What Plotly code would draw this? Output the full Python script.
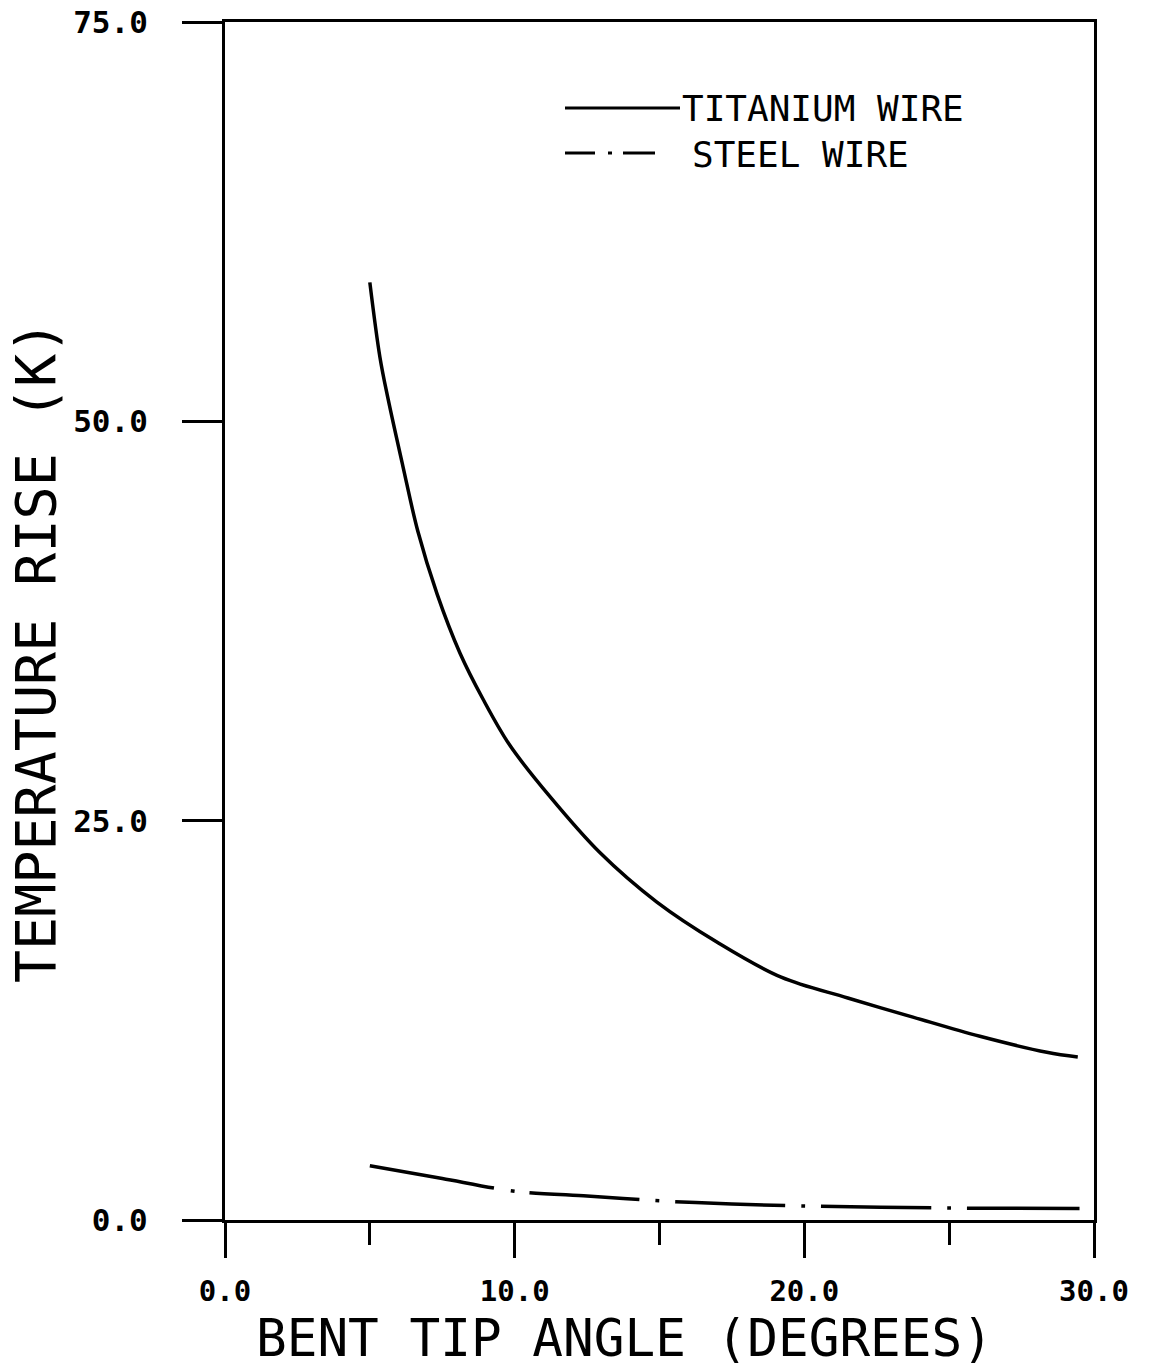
import plotly.graph_objects as go

# ---- data ----
ti_angle = [5.0, 5.35, 5.63, 6.14, 6.66, 7.32, 8.11, 8.91, 9.84, 11.22, 12.94,
            14.91, 16.98, 19.2, 21.5, 23.75, 26.06, 28.37, 29.44]
ti_rise = [58.7, 54.0, 51.4, 47.2, 43.1, 39.2, 35.5, 32.6, 29.7, 26.5, 23.0,
           19.9, 17.4, 15.2, 13.9, 12.7, 11.5, 10.5, 10.2]

st_angle = [5.0, 7.5, 10.0, 12.5, 15.0, 17.5, 20.0, 25.0, 29.5]
st_rise = [3.4, 2.6, 1.8, 1.5, 1.2, 1.0, 0.88, 0.75, 0.72]

x_ticks = [0, 10, 20, 30]
x_ticklabels = ["0.0", "10.0", "20.0", "30.0"]
y_ticks = [0, 25, 50, 75]
y_ticklabels = ["0.0", "25.0", "50.0", "75.0"]

x_title = "BENT TIP ANGLE (DEGREES)"
y_title = "TEMPERATURE RISE (K)"
legend_names = ["TITANIUM WIRE", "STEEL WIRE"]

W, H = 1154, 1371
L, R, T, B = 225, 1094, 22, 1220

def px(xp):
    return (xp - L) / (R - L)

def py(yp):
    return (B - yp) / (B - T)

MONO = "DejaVu Sans Mono"
steel_dash = "126px,17px,4px,15px,110px,16px,4px,16px,110px,16px,4px,16px,110px,16px,4px,16px,300px"

fig = go.Figure()
fig.add_trace(go.Scatter(x=ti_angle, y=ti_rise, mode="lines", name=legend_names[0],
                         line=dict(color="black", width=3.5, shape="spline", smoothing=1.0),
                         showlegend=False))
fig.add_trace(go.Scatter(x=st_angle, y=st_rise, mode="lines", name=legend_names[1],
                         line=dict(color="black", width=3.5, shape="spline", smoothing=0.8,
                                   dash=steel_dash),
                         showlegend=False))

# legend drawn by hand
shapes = [
    dict(type="line", xref="paper", yref="paper", x0=px(565), x1=px(680),
         y0=py(108), y1=py(108), line=dict(color="black", width=3)),
    dict(type="line", xref="paper", yref="paper", x0=px(565), x1=px(595),
         y0=py(153), y1=py(153), line=dict(color="black", width=3)),
    dict(type="line", xref="paper", yref="paper", x0=px(608), x1=px(612),
         y0=py(153), y1=py(153), line=dict(color="black", width=3)),
    dict(type="line", xref="paper", yref="paper", x0=px(623), x1=px(655),
         y0=py(153), y1=py(153), line=dict(color="black", width=3)),
]

annotations = [
    dict(text=legend_names[0], xref="paper", yref="paper", x=px(680), y=py(108),
         xanchor="left", yanchor="middle", showarrow=False,
         font=dict(family=MONO, size=36, color="black")),
    dict(text=legend_names[1], xref="paper", yref="paper", x=px(690), y=py(154),
         xanchor="left", yanchor="middle", showarrow=False,
         font=dict(family=MONO, size=36, color="black")),
    dict(text=x_title, xref="paper", yref="paper", x=px(624), y=py(1370),
         xanchor="center", yanchor="bottom", showarrow=False,
         font=dict(family=MONO, size=51, color="black")),
    dict(text=y_title, xref="paper", yref="paper", x=px(36), y=py(652),
         xanchor="center", yanchor="middle", showarrow=False, textangle=-90,
         font=dict(family=MONO, size=55, color="black")),
]

fig.update_layout(
    width=W, height=H,
    margin=dict(l=L, r=W - R, t=T, b=H - B, pad=0),
    paper_bgcolor="white", plot_bgcolor="white",
    shapes=shapes, annotations=annotations,
    showlegend=False,
    xaxis=dict(range=[0, 30], tickvals=x_ticks, ticktext=x_ticklabels,
               ticks="outside", ticklen=35, tickwidth=3, tickcolor="black",
               showline=True, linewidth=3, linecolor="black", mirror=True,
               showgrid=False, zeroline=False, ticklabelstandoff=8, automargin=False,
               minor=dict(dtick=5, tick0=0, ticks="outside", ticklen=22,
                          tickwidth=3, tickcolor="black", showgrid=False),
               tickfont=dict(family=MONO, size=29, color="black", weight="bold")),
    yaxis=dict(range=[0, 75], tickvals=y_ticks, ticktext=y_ticklabels,
               ticks="outside", ticklen=40, tickwidth=3, tickcolor="black",
               showline=True, linewidth=3, linecolor="black", mirror=True,
               showgrid=False, zeroline=False, ticklabelstandoff=28, automargin=False,
               tickfont=dict(family=MONO, size=31, color="black", weight="bold")),
)

fig.write_html("out.html", config={"displayModeBar": False},
               post_script="document.body.style.margin='0';document.body.style.overflow='hidden';")
